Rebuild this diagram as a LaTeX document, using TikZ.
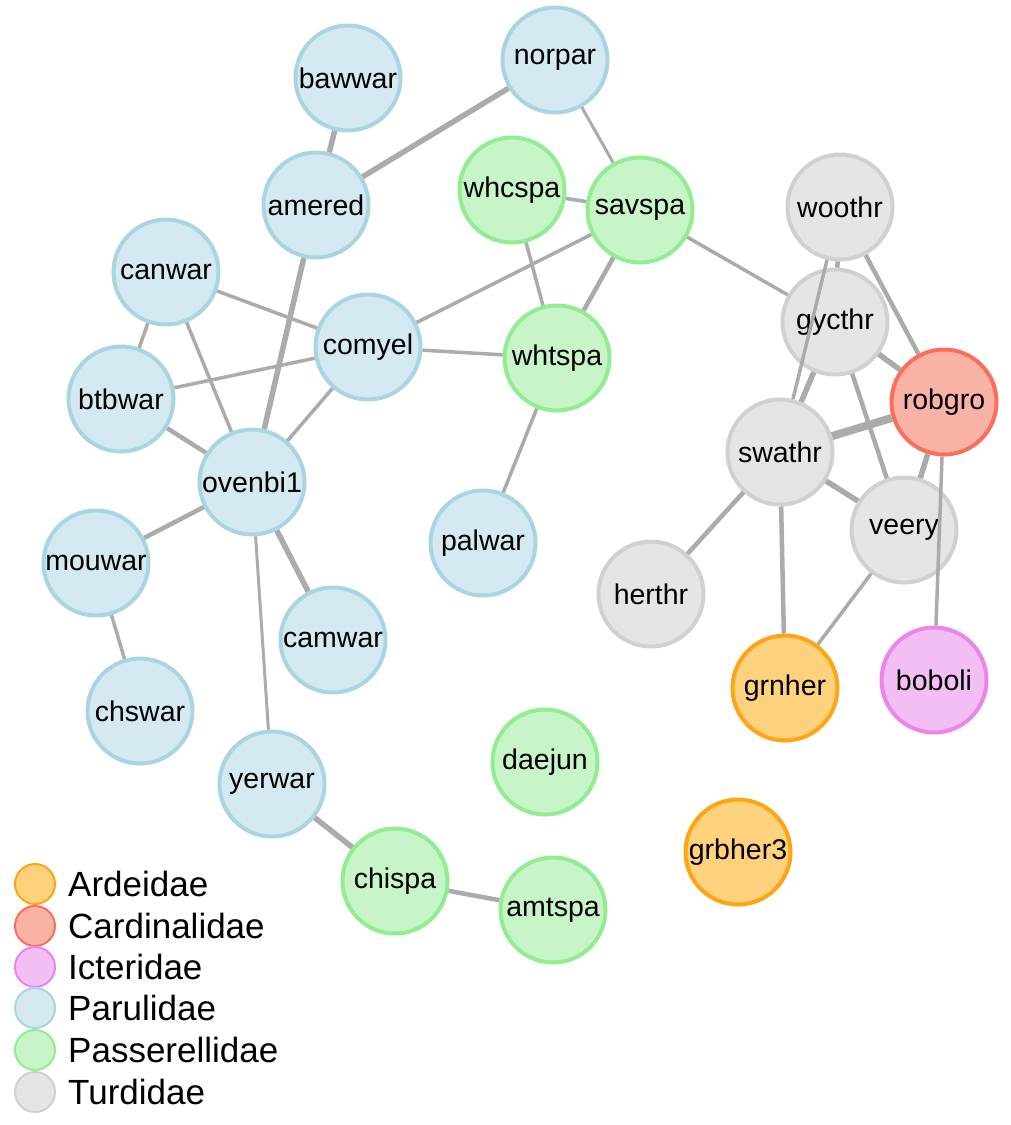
\documentclass[tikz,border=0pt]{standalone}
\usepackage{fontspec}
\setmainfont{Liberation Sans}
\definecolor{parF}{HTML}{D4E9F1}\definecolor{parD}{HTML}{A9D5E3}
\definecolor{pasF}{HTML}{C7F5C7}\definecolor{pasD}{HTML}{92EC92}
\definecolor{turF}{HTML}{E5E5E5}\definecolor{turD}{HTML}{D0D0D0}
\definecolor{carF}{HTML}{F9B2A6}\definecolor{carD}{HTML}{F96F5C}
\definecolor{ardF}{HTML}{FED17C}\definecolor{ardD}{HTML}{FDA514}
\definecolor{icF}{HTML}{F3BEF3}\definecolor{icD}{HTML}{EB84EB}
\definecolor{edgeC}{HTML}{ABABAB}
\tikzset{
  bird/.style={circle, minimum size=105pt, inner sep=0pt, line width=4pt, font=\fontsize{28.5}{32}\selectfont},
  par/.style={bird, fill=parF, draw=parD},
  pas/.style={bird, fill=pasF, draw=pasD},
  tur/.style={bird, fill=turF, draw=turD},
  car/.style={bird, fill=carF, draw=carD},
  ard/.style={bird, fill=ardF, draw=ardD},
  ict/.style={bird, fill=icF, draw=icD},
  lk/.style={draw=edgeC, line width=3.5pt},
  lkthin/.style={draw=edgeC, line width=3pt},
  lkmid/.style={draw=edgeC, line width=4.5pt},
  lkthick/.style={draw=edgeC, line width=5.5pt},
  lkvthick/.style={draw=edgeC, line width=8pt},
  legdot/.style={circle, minimum size=40pt, inner sep=0pt, line width=2pt},
  legtext/.style={anchor=west, inner sep=0pt, font=\fontsize{35}{40}\selectfont}
}
\begin{document}
\begin{tikzpicture}[x=1pt,y=-1pt]
\useasboundingbox[fill=white] (0,0) rectangle (1010,1125);
% nodes
\node[par] (bawwar) at (348,78) {bawwar};
\node[par] (norpar) at (555,60) {norpar};
\node[par] (amered) at (316,205) {amered};
\node[pas] (whcspa) at (512,190) {whcspa};
\node[pas] (savspa) at (640,210) {savspa};
\node[tur] (woothr) at (840,207) {woothr};
\node[par] (canwar) at (166,272) {canwar};
\node[par] (comyel) at (368,347) {comyel};
\node[pas] (whtspa) at (557,358) {whtspa};
\node[tur] (gycthr) at (835,322) {gycthr};
\node[car] (robgro) at (944,402) {robgro};
\node[par] (btbwar) at (121,399) {btbwar};
\node[tur] (swathr) at (780,452) {swathr};
\node[par] (ovenbi1) at (252,482) {ovenbi1};
\node[tur] (veery) at (904,530) {veery};
\node[par] (mouwar) at (96,563) {mouwar};
\node[par] (palwar) at (483,543) {palwar};
\node[tur] (herthr) at (651,594) {herthr};
\node[par] (camwar) at (333,640) {camwar};
\node[ard] (grnher) at (785,688) {grnher};
\node[ict] (boboli) at (934,680) {boboli};
\node[par] (chswar) at (140,711) {chswar};
\node[par] (yerwar) at (272,784) {yerwar};
\node[pas] (daejun) at (545,762) {daejun};
\node[ard] (grbher3) at (738,852) {grbher3};
\node[pas] (chispa) at (395,881) {chispa};
\node[pas] (amtspa) at (553,910) {amtspa};
% edges
\draw[lkthick] (bawwar) -- (amered);
\draw[lkthick] (amered) -- (norpar);
\draw[lkthick] (amered) -- (ovenbi1);
\draw[lkthin] (norpar) -- (savspa);
\draw[lk] (whcspa) -- (savspa);
\draw[lk] (whcspa) -- (whtspa);
\draw[lkmid] (savspa) -- (whtspa);
\draw[lk] (savspa) -- (comyel);
\draw[lk] (savspa) -- (gycthr);
\draw[lk] (canwar) -- (comyel);
\draw[lk] (canwar) -- (btbwar);
\draw[lk] (canwar) -- (ovenbi1);
\draw[lk] (btbwar) -- (comyel);
\draw[lkmid] (btbwar) -- (ovenbi1);
\draw[lk] (comyel) -- (whtspa);
\draw[lk] (comyel) -- (ovenbi1);
\draw[lk] (whtspa) -- (palwar);
\draw[lkmid] (ovenbi1) -- (mouwar);
\draw[lkthick] (ovenbi1) -- (camwar);
\draw[lkthin] (ovenbi1) -- (yerwar);
\draw[lk] (mouwar) -- (chswar);
\draw[lkthick] (yerwar) -- (chispa);
\draw[lkmid] (chispa) -- (amtspa);
\draw[lk] (woothr) -- (swathr);
\draw[lkmid] (woothr) -- (gycthr);
\draw[lkmid] (woothr) -- (robgro);
\draw[lkthick] (gycthr) -- (swathr);
\draw[lkthick] (gycthr) -- (robgro);
\draw[lkmid] (gycthr) -- (veery);
\draw[lkvthick] (swathr) -- (robgro);
\draw[lkthick] (swathr) -- (veery);
\draw[lkthick] (robgro) -- (veery);
\draw[lk] (robgro) -- (boboli);
\draw[lkmid] (swathr) -- (herthr);
\draw[lkmid] (swathr) -- (grnher);
\draw[lk] (veery) -- (grnher);
% legend
\node[legdot, fill=ardF, draw=ardD] (l1) at (35,884) {};
\node[legdot, fill=carF, draw=carD] (l2) at (35,926) {};
\node[legdot, fill=icF, draw=icD] (l3) at (35,967) {};
\node[legdot, fill=parF, draw=parD] (l4) at (35,1008) {};
\node[legdot, fill=pasF, draw=pasD] (l5) at (35,1050) {};
\node[legdot, fill=turF, draw=turD] (l6) at (35,1092) {};
\node[legtext] (t1) at (68,884) {Ardeidae};
\node[legtext] (t2) at (68,926) {Cardinalidae};
\node[legtext] (t3) at (68,967) {Icteridae};
\node[legtext] (t4) at (68,1008) {Parulidae};
\node[legtext] (t5) at (68,1050) {Passerellidae};
\node[legtext] (t6) at (68,1092) {Turdidae};
\end{tikzpicture}
\end{document}
